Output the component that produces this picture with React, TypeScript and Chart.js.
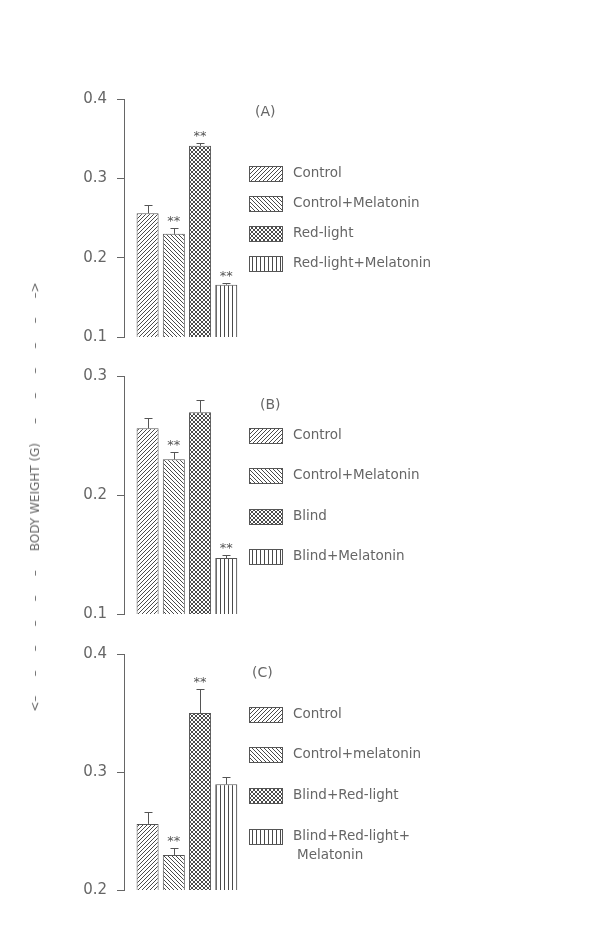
import React, { useEffect, useRef } from 'react';
import { Chart, registerables } from 'chart.js';

Chart.register(...registerables);

// ---------- data ----------
const namesA = ['Control', 'Control+Melatonin', 'Red-light', 'Red-light+Melatonin'];
const valuesA = [0.256, 0.23, 0.341, 0.166];
const errorsA = [0.01, 0.007, 0.004, 0.002];
const marksA = ['', '**', '**', '**'];

const namesB = ['Control', 'Control+Melatonin', 'Blind', 'Blind+Melatonin'];
const valuesB = [0.256, 0.23, 0.2695, 0.147];
const errorsB = [0.009, 0.006, 0.0105, 0.0026];
const marksB = ['', '**', '', '**'];

const namesC = ['Control', 'Control+melatonin', 'Blind+Red-light', 'Blind+Red-light+\nMelatonin'];
const valuesC = [0.256, 0.2297, 0.35, 0.2896];
const errorsC = [0.01, 0.0055, 0.0206, 0.0064];
const marksC = ['', '**', '**', ''];

const panelLabels = ['(A)', '(B)', '(C)'];
const yMins = [0.1, 0.1, 0.2];
const yMaxs = [0.4, 0.3, 0.4];
const yStep = 0.1;
const yTitle = '<–     –     –     –     –     –     BODY WEIGHT (G)     –     –     –     –     –     –>';

const panelNames = [namesA, namesB, namesC];
const panelValues = [valuesA, valuesB, valuesC];
const panelErrors = [errorsA, errorsB, errorsC];
const panelMarks = [marksA, marksB, marksC];

// ---------- layout (positions only) ----------
const W = 600;
const H = 936;
const layouts = [
  { padTop: 99, padBottom: 599, legendTop: 173, legendStep: 30.2, labelX: 255, labelY: 112 },
  { padTop: 376, padBottom: 322, legendTop: 435, legendStep: 40.6, labelX: 260, labelY: 405 },
  { padTop: 654, padBottom: 46, legendTop: 714, legendStep: 40.7, labelX: 252, labelY: 673 },
];

const INK = '#555';
const TEXT = '#666';
const FONT = '"DejaVu Sans", sans-serif';

function makePattern(kind: string): CanvasPattern | string {
  const s = 4;
  const c = document.createElement('canvas');
  c.width = s;
  c.height = s;
  const g = c.getContext('2d');
  if (!g) return '#fff';
  g.fillStyle = '#fff';
  g.fillRect(0, 0, s, s);
  g.strokeStyle = '#4a4a4a';
  g.lineWidth = 1;
  g.beginPath();
  const fwd = () => {
    for (const o of [-s, 0, s]) {
      g.moveTo(o - 1, s + 1);
      g.lineTo(o + s + 1, -1);
    }
  };
  const back = () => {
    for (const o of [-s, 0, s]) {
      g.moveTo(o - 1, -1);
      g.lineTo(o + s + 1, s + 1);
    }
  };
  if (kind === 'fwd') fwd();
  if (kind === 'back') back();
  if (kind === 'cross') {
    fwd();
    back();
  }
  if (kind === 'vert') {
    g.moveTo(0.5, 0);
    g.lineTo(0.5, s);
  }
  g.stroke();
  const p = g.createPattern(c, 'repeat');
  return p || '#fff';
}

const decorPlugin = {
  id: 'decor',
  afterDatasetsDraw(chart: any, _args: any, opts: any) {
    const ctx = chart.ctx as CanvasRenderingContext2D;
    const meta = chart.getDatasetMeta(0);
    const ds = chart.data.datasets[0];
    const yScale = chart.scales.y;
    const errors = opts.errors || [];
    const marks = opts.marks || [];
    ctx.save();
    ctx.strokeStyle = INK;
    ctx.lineWidth = 1;
    meta.data.forEach((bar: any, i: number) => {
      const v = ds.data[i].y;
      const top = yScale.getPixelForValue(v + errors[i]);
      const x = Math.round(bar.x) + 0.5;
      const ty = Math.round(top) + 0.5;
      ctx.beginPath();
      ctx.moveTo(x, bar.y);
      ctx.lineTo(x, ty);
      ctx.moveTo(x - 4, ty);
      ctx.lineTo(x + 4, ty);
      ctx.stroke();
      if (marks[i]) {
        ctx.fillStyle = INK;
        ctx.font = `13px ${FONT}`;
        ctx.textAlign = 'center';
        ctx.textBaseline = 'alphabetic';
        ctx.fillText(marks[i], bar.x, top - 3);
      }
    });

    // panel label
    ctx.fillStyle = TEXT;
    ctx.font = `14px ${FONT}`;
    ctx.textAlign = 'left';
    ctx.textBaseline = 'middle';
    ctx.fillText(opts.label, opts.labelX, opts.labelY);

    // legend
    const labels: string[] = chart.data.labels;
    const fills: any[] = ds.backgroundColor;
    labels.forEach((lab, i) => {
      const cy = opts.legendTop + i * opts.legendStep;
      const bx = 249.5;
      const by = Math.round(cy - 7.5) + 0.5;
      ctx.fillStyle = fills[i];
      ctx.fillRect(bx, by, 33, 15);
      ctx.strokeStyle = INK;
      ctx.lineWidth = 1;
      ctx.strokeRect(bx, by, 33, 15);
      ctx.fillStyle = TEXT;
      ctx.font = `13.5px ${FONT}`;
      ctx.textAlign = 'left';
      ctx.textBaseline = 'middle';
      String(lab)
        .split('\n')
        .forEach((line, k) => {
          ctx.fillText(line, 293 + (k > 0 ? 4 : 0), cy + k * 19);
        });
    });
    ctx.restore();
  },
};

function Panel({ idx }: { idx: number }) {
  const ref = useRef<HTMLCanvasElement | null>(null);
  useEffect(() => {
    if (!ref.current) return;
    const lay = layouts[idx];
    const patterns = ['fwd', 'back', 'cross', 'vert'].map(makePattern);
    const chart = new Chart(ref.current, {
      type: 'bar',
      data: {
        labels: panelNames[idx],
        datasets: [
          {
            data: panelValues[idx].map((v, i) => ({ x: i + 1, y: v })),
            backgroundColor: patterns as any,
            borderColor: INK,
            borderWidth: 1,
            borderSkipped: false,
            barPercentage: 0.84,
            categoryPercentage: 1,
          } as any,
        ],
      },
      options: {
        animation: false,
        responsive: false,
        maintainAspectRatio: false,
        events: [],
        layout: { padding: { top: lay.padTop, bottom: lay.padBottom, left: 0, right: 358 } },
        plugins: {
          legend: { display: false },
          tooltip: { enabled: false },
          title: { display: false },
          decor: {
            errors: panelErrors[idx],
            marks: panelMarks[idx],
            label: panelLabels[idx],
            labelX: lay.labelX,
            labelY: lay.labelY,
            legendTop: lay.legendTop,
            legendStep: lay.legendStep,
          },
        } as any,
        scales: {
          x: {
            type: 'linear',
            min: 0.1,
            max: 4.6,
            display: false,
            offset: false,
          },
          y: {
            min: yMins[idx],
            max: yMaxs[idx],
            afterFit: (s: any) => {
              s.width = 124;
            },
            ticks: {
              stepSize: yStep,
              color: TEXT,
              padding: 10,
              font: { family: FONT, size: 15 },
              callback: (v: any) => Number(v).toFixed(1),
            },
            grid: {
              drawOnChartArea: false,
              drawTicks: true,
              tickLength: 7,
              color: TEXT,
              lineWidth: 1,
            },
            border: { display: true, color: TEXT, width: 1 },
          },
        },
      } as any,
      plugins: [decorPlugin],
    });
    return () => chart.destroy();
  }, [idx]);
  return (
    <canvas
      ref={ref}
      width={W}
      height={H}
      style={{ position: 'absolute', left: 0, top: 0, width: W, height: H }}
    />
  );
}

export default function App() {
  return (
    <div style={{ position: 'absolute', left: 0, top: 0, width: W, height: H, background: '#fff', overflow: 'hidden' }}>
      <Panel idx={0} />
      <Panel idx={1} />
      <Panel idx={2} />
      <div
        style={{
          position: 'absolute',
          left: 35,
          top: 497,
          transform: 'translate(-50%, -50%) rotate(-90deg)',
          whiteSpace: 'pre',
          fontFamily: FONT,
          fontSize: 12,
          color: TEXT,
          lineHeight: '14px',
        }}
      >
        {yTitle}
      </div>
    </div>
  );
}
